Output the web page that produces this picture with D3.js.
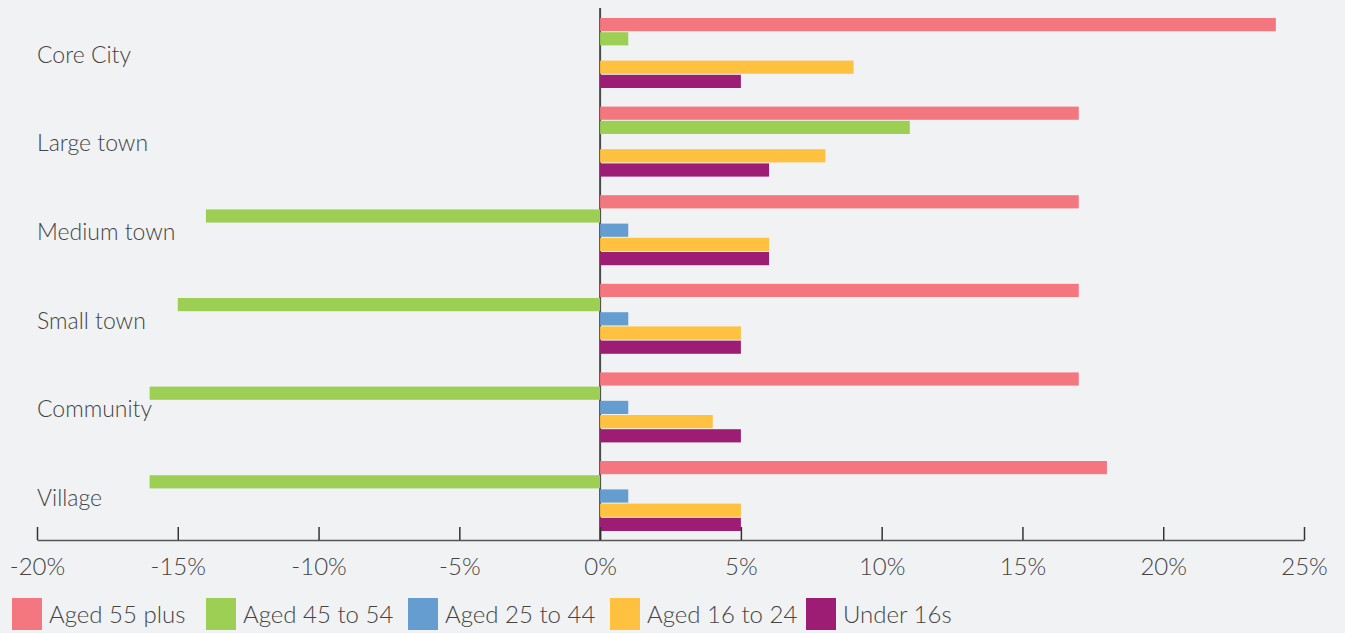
<!DOCTYPE html>
<html>
<head>
<meta charset="utf-8">
<script src="https://d3js.org/d3.v7.min.js"></script>
<style>
  body { margin: 0; background: #f1f2f4; }
  svg { display: block; font-family: Lato, "Open Sans", sans-serif; font-weight: 300; }
</style>
</head>
<body>
<svg id="chart" width="1345" height="633"></svg>
<script>
// categories (top to bottom) and series
const places = ["Core City", "Large town", "Medium town", "Small town", "Community", "Village"];
const groups = ["Aged 55 plus", "Aged 45 to 54", "Aged 25 to 44", "Aged 16 to 24", "Under 16s"];
const colors = ["#f4777f", "#9ecf55", "#669dd1", "#ffc13f", "#9e1d74"];

// % change per place, one array per age group
const aged55plus = [24, 17, 17, 17, 17, 18];
const aged45to54 = [1, 11, -14, -15, -16, -16];
const aged25to44 = [0, 0, 1, 1, 1, 1];
const aged16to24 = [9, 8, 6, 5, 4, 5];
const under16s   = [5, 6, 6, 5, 5, 5];

const tickVals = [-20, -15, -10, -5, 0, 5, 10, 15, 20, 25];

const series = [aged55plus, aged45to54, aged25to44, aged16to24, under16s];
const rows = [];
places.forEach((p, i) => {
  groups.forEach((g, j) => {
    rows.push({place: p, group: g, value: series[j][i], color: colors[j]});
  });
});

const svg = d3.select("#chart");
const textCol = "#444";

const x = d3.scaleLinear([-20, 25], [37, 1304]);
const y0 = d3.scaleBand(places, [18, 531]).paddingInner(0.21).paddingOuter(0);
const y1 = d3.scaleBand(groups, [0, y0.bandwidth()]).paddingInner(1 / 14);

// zero line
svg.append("line")
  .attr("x1", x(0)).attr("x2", x(0))
  .attr("y1", 8).attr("y2", 540)
  .attr("stroke", "#4a4a4a").attr("stroke-width", 2);

// bars
svg.append("g").selectAll("rect")
  .data(rows.filter(d => d.value !== 0))
  .join("rect")
    .attr("x", d => x(Math.min(0, d.value)))
    .attr("width", d => Math.abs(x(d.value) - x(0)))
    .attr("y", d => y0(d.place) + y1(d.group))
    .attr("height", y1.bandwidth())
    .attr("fill", d => d.color);

// category labels
svg.append("g").selectAll("text")
  .data(places)
  .join("text")
    .attr("x", 37)
    .attr("y", d => y0(d) + y0.bandwidth() / 2 + 4)
    .attr("dominant-baseline", "middle")
    .attr("font-size", 23)
    .attr("fill", textCol)
    .text(d => d);

// x axis
const axis = svg.append("g")
  .attr("transform", "translate(0,540)")
  .call(d3.axisBottom(x).tickValues(tickVals).tickFormat(d => d + "%")
    .tickSizeInner(-13).tickSizeOuter(0).tickPadding(18));
axis.select(".domain").attr("stroke", "#555").attr("stroke-width", 1.5);
axis.selectAll(".tick line").attr("stroke", "#333").attr("stroke-width", 1.5);
axis.selectAll(".tick text")
  .attr("font-size", 24)
  .attr("font-family", "Lato, 'Open Sans', sans-serif")
  .attr("fill", textCol);

// legend
const legendX = [12, 206, 408, 610, 806];
const leg = svg.append("g").selectAll("g")
  .data(groups)
  .join("g")
    .attr("transform", (d, i) => `translate(${legendX[i]},598)`);
leg.append("rect")
  .attr("width", 30).attr("height", 32)
  .attr("fill", (d, i) => colors[i]);
leg.append("text")
  .attr("x", 37).attr("y", 19)
  .attr("dominant-baseline", "middle")
  .attr("font-size", 24)
  .attr("fill", textCol)
  .text(d => d);
</script>
</body>
</html>
